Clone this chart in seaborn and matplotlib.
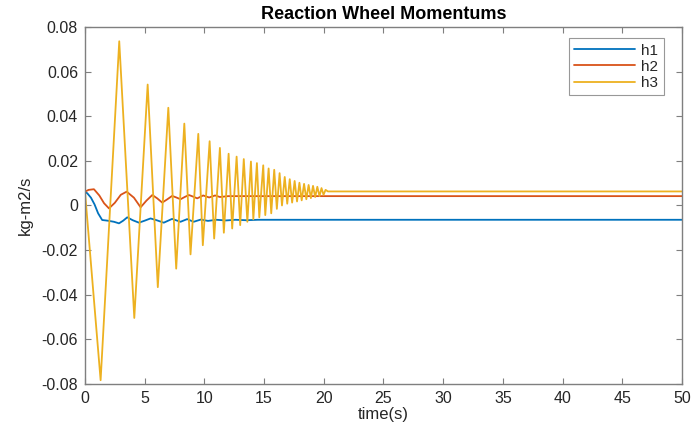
import matplotlib
matplotlib.use("Agg")
import matplotlib.pyplot as plt
import seaborn as sns
import pandas as pd
from matplotlib.ticker import FuncFormatter

# ---- data ----
h1_t = [0, 0.19, 0.5, 0.8, 1.1, 1.44, 1.9, 2.43, 2.85, 3.2, 3.54, 4.0, 4.52, 5.0, 5.49, 6.0,
        6.6, 7.3, 8.0, 8.56, 9.1, 9.7, 10.3, 11.0, 11.8, 12.6, 13.5, 14.5, 20.3, 50]
h1_v = [0.006, 0.0055, 0.0035, 0.0005, -0.0035, -0.0065, -0.0068, -0.0073, -0.008, -0.0068, -0.0053, -0.0066, -0.0077, -0.0068, -0.0058, -0.0066,
        -0.0077, -0.006, -0.0073, -0.0061, -0.0073, -0.0063, -0.0069, -0.0064, -0.0067, -0.0064, -0.0066, -0.0064, -0.0064, -0.0064]

h2_t = [0, 0.3, 0.75, 1.2, 1.6, 2.01, 2.5, 3.0, 3.49, 4.1, 4.66, 5.15, 5.64, 6.05, 6.47, 6.9,
        7.3, 7.65, 8.0, 8.35, 8.7, 9.05, 9.4, 9.9, 10.4, 10.9, 11.3, 12.0, 20.3, 50]
h2_v = [0.0062, 0.007, 0.0073, 0.0045, 0.001, -0.0013, 0.0012, 0.0048, 0.0062, 0.0035, -0.0008, 0.0022, 0.0047, 0.0032, 0.0013, 0.0028,
        0.0043, 0.0036, 0.0028, 0.0038, 0.0047, 0.004, 0.0032, 0.0045, 0.0036, 0.0045, 0.0038, 0.0042, 0.0042, 0.0042]

h3_t = [0, 1.31, 2.87, 4.13, 5.25, 6.1, 6.98, 7.64, 8.32, 8.84, 9.49, 9.87, 10.44, 10.82, 11.3,
        11.63, 12.03, 12.33, 12.7, 13.0, 13.3, 13.6, 13.9, 14.1, 14.4, 14.6, 14.93, 15.1, 15.38,
        15.6, 15.85, 16.07, 16.3, 16.5, 16.73, 16.94, 17.15, 17.35, 17.56, 17.76, 17.96, 18.15,
        18.35, 18.54, 18.73, 18.92, 19.1, 19.28, 19.46, 19.64, 19.81, 19.98, 20.15, 20.35, 50]
h3_v = [0.0062, -0.0783, 0.0736, -0.0504, 0.0542, -0.0366, 0.0438, -0.0283, 0.0367, -0.0219, 0.0321, -0.0178, 0.0288, -0.0148, 0.0258,
        -0.0122, 0.0232, -0.0103, 0.0219, -0.0088, 0.0208, -0.0073, 0.0197, -0.0062, 0.019, -0.0053, 0.018, -0.0043, 0.0166,
        -0.0035, 0.016, -0.0015, 0.0145, 0.0, 0.0128, 0.0008, 0.0118, 0.0013, 0.011, 0.0018, 0.0102, 0.0023,
        0.0097, 0.0028, 0.0092, 0.0033, 0.0088, 0.0038, 0.0084, 0.0042, 0.0078, 0.0048, 0.007, 0.0063, 0.0063]

series_names = ["h1", "h2", "h3"]
colors = ["#0072BD", "#D95319", "#EDB120"]
x_ticks = [0, 5, 10, 15, 20, 25, 30, 35, 40, 45, 50]
y_ticks = [-0.08, -0.06, -0.04, -0.02, 0, 0.02, 0.04, 0.06, 0.08]

rows = []
for name, ts, vs in zip(series_names, [h1_t, h2_t, h3_t], [h1_v, h2_v, h3_v]):
    for i, (t, v) in enumerate(zip(ts, vs)):
        rows.append({"time": t, "value": v, "series": name, "order": i})
df = pd.DataFrame(rows)

sns.set_style("ticks")
plt.rcParams["font.family"] = ["Liberation Sans", "DejaVu Sans"]
plt.rcParams["axes.unicode_minus"] = False

fig = plt.figure(figsize=(6.92, 4.34), dpi=100)
ax = fig.add_axes([0.1228, 0.1152, 0.8627, 0.8226])

sns.lineplot(data=df, x="time", y="value", hue="series", palette=colors,
             estimator=None, sort=False, units="series", linewidth=1.3, ax=ax)

ax.set_xlim(0, 50)
ax.set_ylim(-0.08, 0.08)
ax.set_xticks(x_ticks)
ax.set_yticks(y_ticks)
ax.yaxis.set_major_formatter(FuncFormatter(lambda v, p: "0" if abs(v) < 1e-9 else f"{v:.2f}"))
ax.tick_params(direction="in", top=True, right=True, length=4, width=0.8,
               colors="#7f7f7f", labelcolor="#262626", labelsize=11.5, pad=5)
for s in ax.spines.values():
    s.set_color("#7f7f7f")
    s.set_linewidth(1.0)

ax.set_title("Reaction Wheel Momentums", fontsize=13, fontweight="bold", color="black", pad=6)
ax.set_xlabel("time(s)", fontsize=12, color="#262626", labelpad=1)
ax.set_ylabel("kg-m2/s", fontsize=12, color="#262626", labelpad=6)

handles, labels = ax.get_legend_handles_labels()
leg = ax.legend(handles, labels, loc="upper right", bbox_to_anchor=(0.982, 0.99),
                frameon=True, fancybox=False, edgecolor="#7f7f7f", fontsize=11,
                handlelength=4.0, handletextpad=0.4, borderpad=0.35, labelspacing=0.15)
leg.get_frame().set_linewidth(0.8)

fig.savefig("out.png", dpi=100)
